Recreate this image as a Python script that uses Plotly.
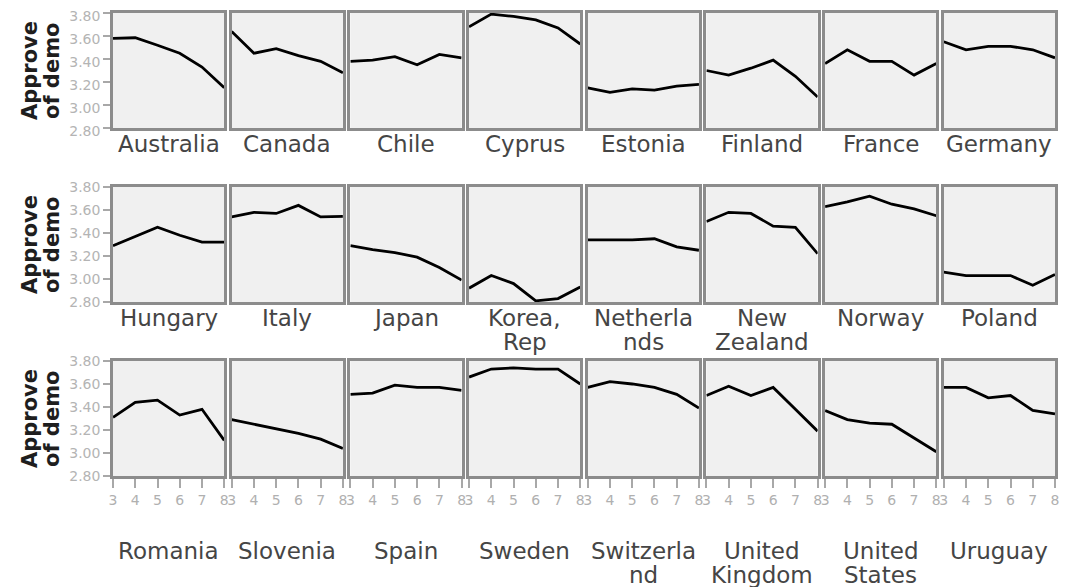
import plotly.graph_objects as go
from plotly.subplots import make_subplots

years = [3, 4, 5, 6, 7, 8]

countries = [
    "Australia", "Canada", "Chile", "Cyprus", "Estonia", "Finland", "France", "Germany",
    "Hungary", "Italy", "Japan", "Korea,<br>Rep", "Netherla<br>nds", "New<br>Zealand", "Norway", "Poland",
    "Romania", "Slovenia", "Spain", "Sweden", "Switzerla<br>nd", "United<br>Kingdom", "United<br>States", "Uruguay",
]

australia = [3.58, 3.585, 3.52, 3.45, 3.33, 3.15]
canada = [3.64, 3.45, 3.49, 3.43, 3.38, 3.28]
chile = [3.38, 3.39, 3.42, 3.35, 3.44, 3.41]
cyprus = [3.68, 3.79, 3.77, 3.74, 3.67, 3.53]
estonia = [3.15, 3.11, 3.14, 3.13, 3.165, 3.18]
finland = [3.30, 3.26, 3.32, 3.39, 3.25, 3.07]
france = [3.36, 3.48, 3.38, 3.38, 3.26, 3.36]
germany = [3.55, 3.48, 3.51, 3.51, 3.48, 3.41]
hungary = [3.29, 3.37, 3.45, 3.38, 3.32, 3.32]
italy = [3.54, 3.58, 3.57, 3.64, 3.54, 3.545]
japan = [3.29, 3.255, 3.23, 3.19, 3.10, 2.99]
korea = [2.92, 3.03, 2.96, 2.81, 2.83, 2.93]
netherlands = [3.34, 3.34, 3.34, 3.35, 3.28, 3.25]
new_zealand = [3.50, 3.58, 3.57, 3.46, 3.45, 3.22]
norway = [3.63, 3.67, 3.72, 3.65, 3.61, 3.55]
poland = [3.06, 3.03, 3.03, 3.03, 2.945, 3.04]
romania = [3.31, 3.44, 3.46, 3.33, 3.38, 3.11]
slovenia = [3.29, 3.25, 3.21, 3.17, 3.12, 3.04]
spain = [3.51, 3.52, 3.59, 3.57, 3.57, 3.545]
sweden = [3.66, 3.73, 3.74, 3.73, 3.73, 3.60]
switzerland = [3.57, 3.62, 3.60, 3.57, 3.51, 3.39]
united_kingdom = [3.50, 3.58, 3.50, 3.57, 3.38, 3.19]
united_states = [3.37, 3.29, 3.26, 3.25, 3.13, 3.01]
uruguay = [3.57, 3.57, 3.48, 3.50, 3.37, 3.34]

series = [
    australia, canada, chile, cyprus, estonia, finland, france, germany,
    hungary, italy, japan, korea, netherlands, new_zealand, norway, poland,
    romania, slovenia, spain, sweden, switzerland, united_kingdom, united_states, uruguay,
]

y_ticks = [2.80, 3.00, 3.20, 3.40, 3.60, 3.80]
y_tick_labels = ["2.80", "3.00", "3.20", "3.40", "3.60", "3.80"]
y_title_lines = ["Approve", "of demo"]

# page body has an 8px margin; figure coordinates are page coordinates minus 8
OFF = 8
W, H = 1060, 579
ML, MT = 113 - OFF, 13 - OFF
MR = W - (1055 - OFF)
MB = H - (476 - OFF)
NR, NC = 3, 8

fig = make_subplots(rows=NR, cols=NC, horizontal_spacing=0.0079, vertical_spacing=0.1274)

for i, vals in enumerate(series):
    r, c = i // NC + 1, i % NC + 1
    fig.add_trace(go.Scatter(x=years, y=vals, mode="lines",
                             line=dict(color="black", width=2.8),
                             showlegend=False, hoverinfo="skip", cliponaxis=False),
                  row=r, col=c)
    fig.update_xaxes(range=[3, 8], tickvals=years, showgrid=False, zeroline=False,
                     automargin=False, ticklabeloverflow="allow",
                     showline=True, mirror=True, linecolor="#8c8c8c", linewidth=2.5,
                     ticks="outside" if r == NR else "", ticklen=9, tickcolor="#a8a8a8",
                     tickwidth=1.5,
                     showticklabels=(r == NR),
                     tickfont=dict(family="DejaVu Sans", size=14, color="#b0b0b0"),
                     row=r, col=c)
    fig.update_yaxes(range=[2.80, 3.80], tickvals=y_ticks, ticktext=y_tick_labels,
                     showgrid=False, zeroline=False, automargin=False,
                     ticklabeloverflow="allow",
                     ticklabelshift=(3 if r == 1 else 0),
                     showline=True, mirror=True, linecolor="#8c8c8c", linewidth=2.5,
                     ticks="outside" if c == 1 else "", ticklen=7, tickcolor="#a8a8a8",
                     tickwidth=1.5,
                     showticklabels=(c == 1),
                     tickfont=dict(family="DejaVu Sans", size=14, color="#b4b4b4"),
                     row=r, col=c)

fig.update_layout(width=W, height=H, margin=dict(l=ML, r=MR, t=MT, b=MB, autoexpand=False),
                  plot_bgcolor="#f0f0f0", paper_bgcolor="white",
                  font=dict(family="DejaVu Sans"))

pw = W - ML - MR
ph = H - MT - MB

def paper_y(page_y):
    return 1 - (page_y - OFF - MT) / ph

def paper_x(page_x):
    return (page_x - OFF - ML) / pw

# centre (page px) of first label line, per row, and line step
label_first = {1: 144, 2: 318, 3: 551}
line_step = 24

annotations = []
for i, name in enumerate(countries):
    r, c = i // NC + 1, i % NC + 1
    idx = i + 1
    xa = fig.layout["xaxis" if idx == 1 else f"xaxis{idx}"]
    xc = (xa.domain[0] + xa.domain[1]) / 2
    for k, part in enumerate(name.split("<br>")):
        annotations.append(dict(text=part, x=xc, y=paper_y(label_first[r] + k * line_step),
                                xref="paper", yref="paper",
                                xanchor="center", yanchor="middle", showarrow=False,
                                font=dict(family="DejaVu Sans", size=23, color="#454545")))

row_centers = [71, 245, 419]
for yc in row_centers:
    for k, part in enumerate(y_title_lines):
        annotations.append(dict(text="<b>" + part + "</b>", x=paper_x(30 + 22 * k), y=paper_y(yc),
                                xref="paper", yref="paper", xanchor="center", yanchor="middle",
                                textangle=-90, showarrow=False,
                                font=dict(family="DejaVu Sans", size=21, color="#1e1e1e")))

fig.update_layout(annotations=annotations)
fig.write_html("out.html")
